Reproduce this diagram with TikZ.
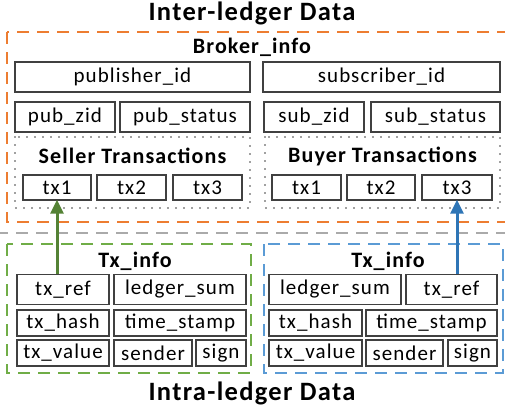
\documentclass[tikz,border=0pt]{standalone}
\usepackage{fontspec}
\setmainfont{Carlito}[LetterSpace=5]
\usetikzlibrary{arrows.meta}
\definecolor{oranged}{RGB}{237,125,49}
\definecolor{greend}{RGB}{112,173,71}
\definecolor{greena}{RGB}{84,130,53}
\definecolor{blued}{RGB}{91,155,213}
\definecolor{bluea}{RGB}{46,117,182}
\definecolor{greyd}{RGB}{170,170,170}
\definecolor{boxline}{RGB}{64,64,64}
\tikzset{
  bx/.style={draw=boxline, line width=1.4pt, inner sep=0pt, font=\fontsize{21}{25}\selectfont},
  ttl/.style={inner sep=0pt, font=\fontsize{22}{26}\selectfont\bfseries},
  big/.style={inner sep=0pt, font=\fontsize{26.5}{32}\selectfont\bfseries},
  dotbox/.style={draw=boxline, line width=1.6pt, line cap=round, dash pattern=on 0pt off 8pt},
  dashbox/.style={line width=2pt, dash pattern=on 12pt off 8pt},
  arr/.style={line width=3pt, -{Triangle[length=14pt,width=13pt]}, shorten >=-1pt},
}
\begin{document}
\begin{tikzpicture}[x=1pt,y=-1pt]
\useasboundingbox (0,0) rectangle (505,413);
% frames
\draw[dashbox, draw=oranged] (7,32) rectangle (508,222);
\draw[dashbox, draw=greyd] (-4,233) -- (510,233);
\draw[dashbox, draw=greend] (7,244) rectangle (251,373);
\draw[dashbox, draw=blued] (264,244) rectangle (503,373);
\draw[dotbox] (15,137) rectangle (250,208);
\draw[dotbox] (265,137) rectangle (500,208);
% titles
\node[big] (inter) at (252,13) {Inter-ledger Data};
\node[big] (intra) at (252,393) {Intra-ledger Data};
\node[ttl] (broker) at (252,47) {Broker\_info};
\node[ttl] (seller) at (132.5,156) {Seller Transactions};
\node[ttl] (buyer) at (382.5,156) {Buyer Transactions};
\node[ttl] (gtitle) at (135,261) {Tx\_info};
\node[ttl] (btitle) at (388,261) {Tx\_info};
% broker boxes
\node[bx, minimum width=235pt, minimum height=30pt] (pid) at (132.5,77) {publisher\_id};
\node[bx, minimum width=237pt, minimum height=30pt] (sid) at (381.5,77) {subscriber\_id};
\node[bx, minimum width=100pt, minimum height=30pt] (pzid) at (65,117) {pub\_zid};
\node[bx, minimum width=130pt, minimum height=30pt] (pst) at (185,117) {pub\_status};
\node[bx, minimum width=100pt, minimum height=30pt] (szid) at (314,117) {sub\_zid};
\node[bx, minimum width=129pt, minimum height=30pt] (sst) at (435.5,117) {sub\_status};
% transactions
\node[bx, minimum width=68pt, minimum height=25pt] (stx1) at (57,187.5) {tx1};
\node[bx, minimum width=69pt, minimum height=25pt] (stx2) at (131.5,187.5) {tx2};
\node[bx, minimum width=69pt, minimum height=25pt] (stx3) at (207.5,187.5) {tx3};
\node[bx, minimum width=69pt, minimum height=25pt] (btx1) at (306.5,187.5) {tx1};
\node[bx, minimum width=68pt, minimum height=25pt] (btx2) at (381,187.5) {tx2};
\node[bx, minimum width=70pt, minimum height=25pt] (btx3) at (457,187.5) {tx3};
% green tx info
\node[bx, minimum width=92pt, minimum height=30pt] (gref) at (63,289.5) {tx\_ref};
\node[bx, minimum width=132pt, minimum height=30pt] (gsum) at (180,289.5) {ledger\_sum};
\node[bx, minimum width=92pt, minimum height=26pt] (ghash) at (63,323) {tx\_hash};
\node[bx, minimum width=132pt, minimum height=26pt] (gtime) at (180,323) {time\_stamp};
\node[bx, minimum width=92pt, minimum height=26pt] (gval) at (63,353) {tx\_value};
\node[bx, minimum width=78pt, minimum height=26pt] (gsend) at (153,353) {sender};
\node[bx, minimum width=50pt, minimum height=26pt] (gsign) at (221,353) {sign};
% blue tx info
\node[bx, minimum width=132pt, minimum height=30pt] (bsum) at (335,289.5) {ledger\_sum};
\node[bx, minimum width=91pt, minimum height=30pt] (bref) at (451.5,289.5) {tx\_ref};
\node[bx, minimum width=93pt, minimum height=26pt] (bhash) at (315.5,323) {tx\_hash};
\node[bx, minimum width=131pt, minimum height=26pt] (btime) at (431.5,323) {time\_stamp};
\node[bx, minimum width=93pt, minimum height=26pt] (bval) at (315.5,353) {tx\_value};
\node[bx, minimum width=77pt, minimum height=26pt] (bsend) at (404.5,353) {sender};
\node[bx, minimum width=49pt, minimum height=26pt] (bsign) at (472.5,353) {sign};
% arrows
\draw[arr, draw=greena, fill=greena] (stx1.south |- gref.north) -- (stx1.south);
\draw[arr, draw=bluea, fill=bluea] (btx3.south |- bref.north) -- (btx3.south);
\end{tikzpicture}
\end{document}
